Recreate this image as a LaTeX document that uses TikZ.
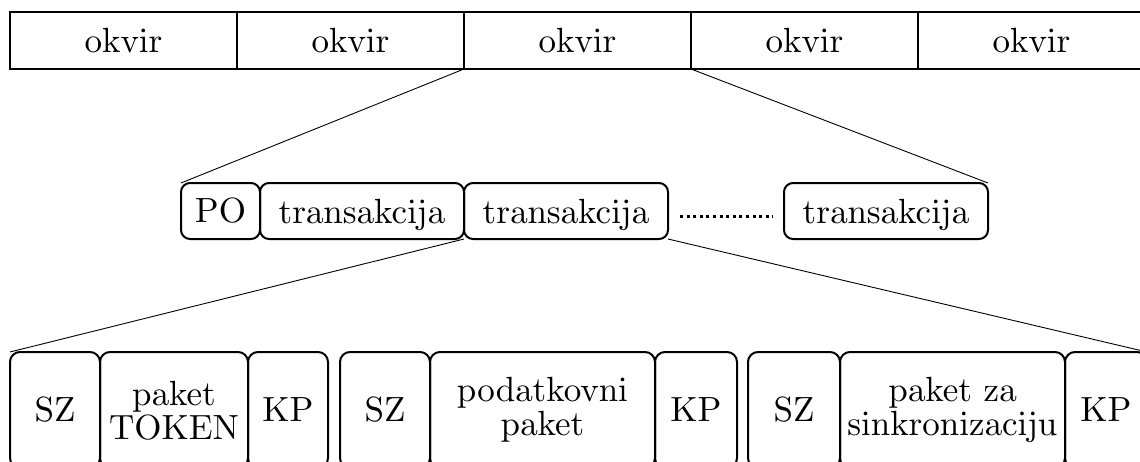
\documentclass[tikz,border=0pt]{standalone}
\font\diagfont=cmr10 at 17.5pt
\newcommand\dfont{\diagfont\baselineskip=17pt\relax}
\begin{document}
\begin{tikzpicture}[x=0.5pt,y=-0.5pt,
  every node/.style={font=\dfont, inner sep=0pt, outer sep=0pt},
  frame/.style={draw, line width=1pt, minimum width=113.5pt, minimum height=28.5pt},
  rbox/.style={draw, line width=1pt, rounded corners=4.5pt, minimum height=28pt, minimum width=#1},
  bbox/.style={draw, line width=1pt, rounded corners=5pt, minimum height=58pt, minimum width=#1, align=center},
  conn/.style={line width=0.45pt}]
\useasboundingbox (0,0) rectangle (1140,461);
\clip (0,0) rectangle (1140,461);
% top row
\node[frame] (f1) at (123.5,40.5) {okvir};
\node[frame] (f2) at (350.5,40.5) {okvir};
\node[frame] (f3) at (577.5,40.5) {okvir};
\node[frame] (f4) at (804.5,40.5) {okvir};
\node[frame] (f5) at (1031.5,40.5) {okvir};
% middle row
\node[rbox=39.5pt, text depth=0pt] (po) at (220.5,211) {PO};
\node[rbox=102pt, text depth=0pt] (t1) at (362,211) {transakcija};
\node[rbox=102pt, text depth=0pt] (t2) at (566,211) {transakcija};
\node[rbox=102pt, text depth=0pt] (t4) at (886,211) {transakcija};
\coordinate (d1) at (680,216.7);
\coordinate (d2) at (773,216.7);
\draw[line width=1.5pt, dash pattern=on 1.5pt off 1.8pt] (d1) -- (d2);
% bottom row
\node[bbox=45pt] (sz1) at (55,410) {SZ};
\node[bbox=74pt] (pt) at (174,410) {paket\\TOKEN};
\node[bbox=40pt] (kp1) at (288,410) {KP};
\node[bbox=45pt] (sz2) at (385,410) {SZ};
\node[bbox=112.5pt] (pp) at (542.5,410) {podatkovni\\paket};
\node[bbox=41pt] (kp2) at (696,410) {KP};
\node[bbox=46pt] (sz3) at (794,410) {SZ};
\node[bbox=112.5pt] (ps) at (952.5,410) {paket za\\sinkronizaciju};
\node[bbox=41pt] (kp3) at (1106,410) {KP};
% connectors
\draw[conn] (f3.south west) -- (po.north west);
\draw[conn] (f3.south east) -- (t4.north east);
\draw[conn] (t2.south west) -- (sz1.north west);
\draw[conn] (t2.south east) -- (kp3.north east);
\end{tikzpicture}
\end{document}
